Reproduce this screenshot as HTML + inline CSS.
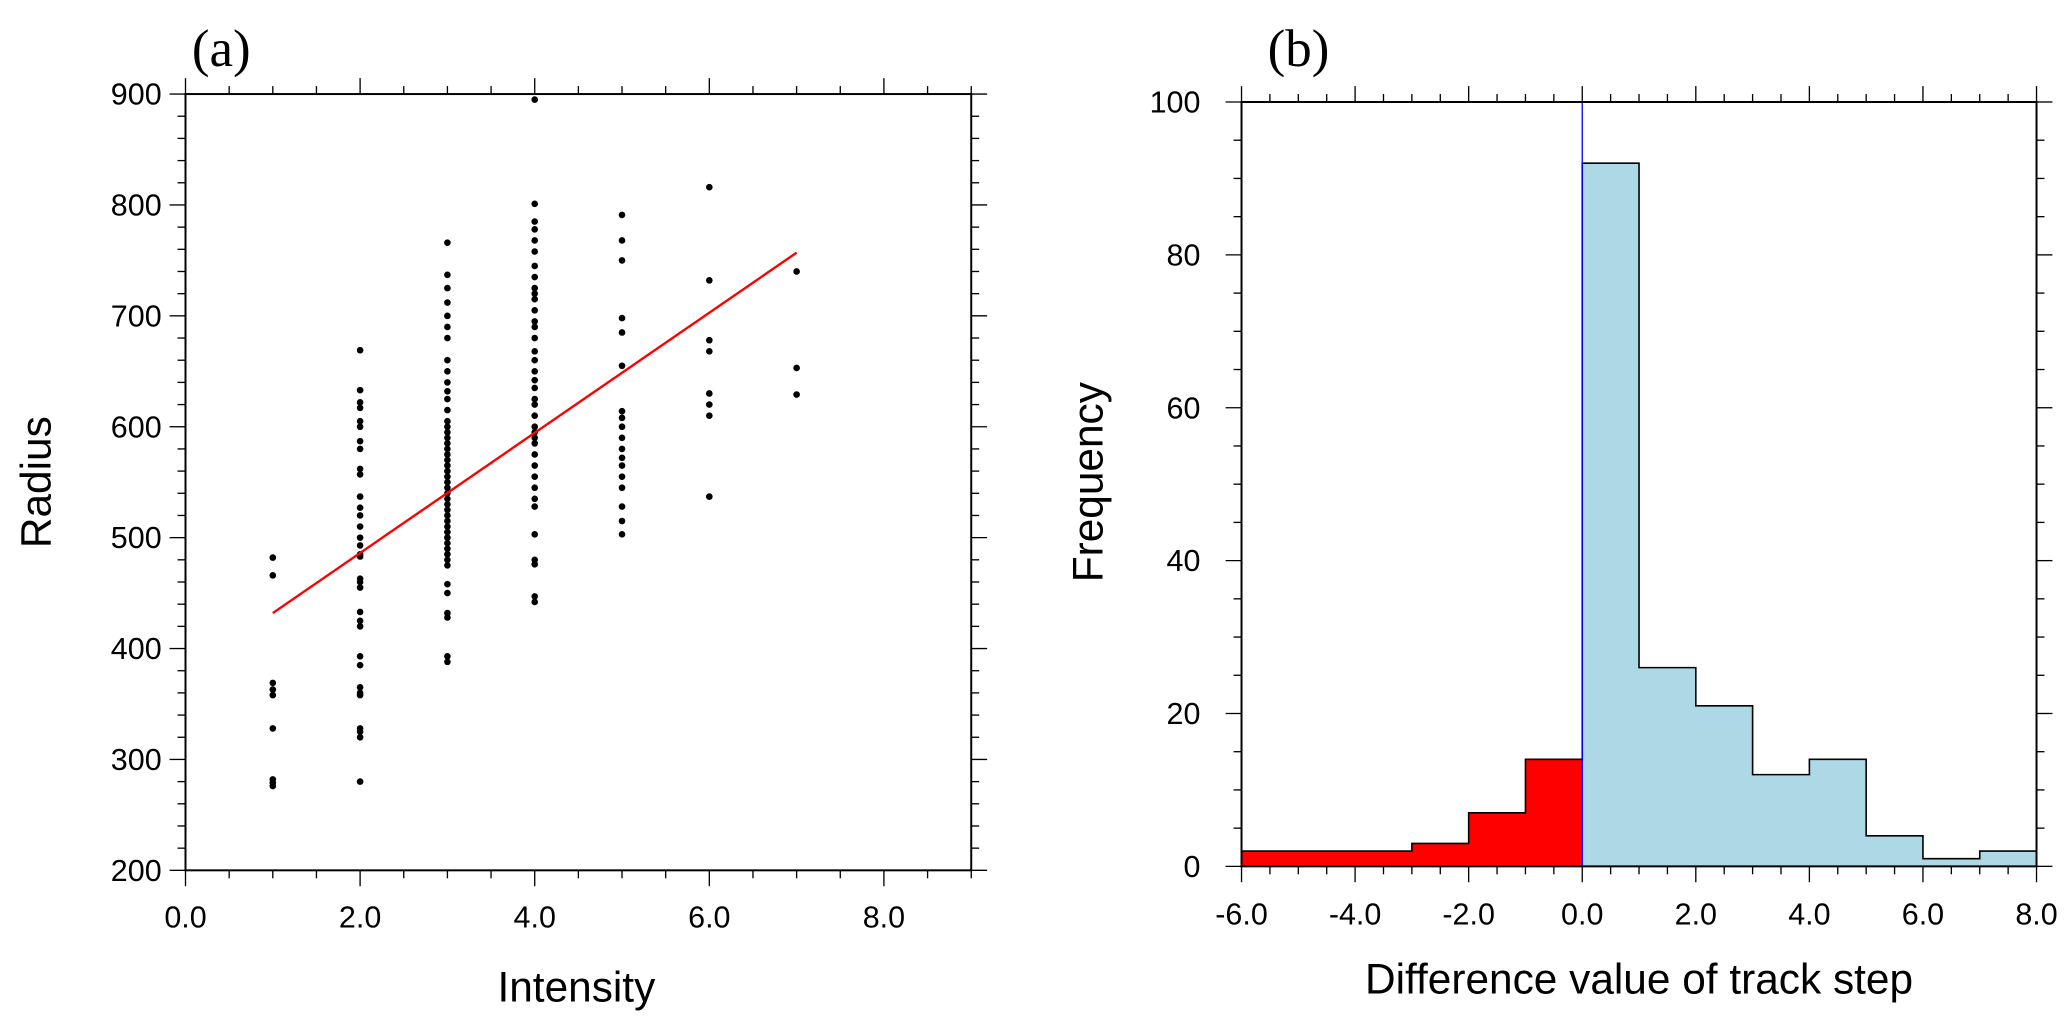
<!DOCTYPE html>
<html><head><meta charset="utf-8"><style>
html,body{margin:0;padding:0;background:#fff;}
svg{display:block;font-family:"Liberation Sans",sans-serif;}
</style></head><body>
<svg id="chart" width="2067" height="1024" viewBox="0 0 1560 773" preserveAspectRatio="none" xmlns="http://www.w3.org/2000/svg">
<g id="pa"></g>
<g id="pb"></g>
</svg>
<script>
// Panel (a) data
const intensityCats = [1,2,3,4,5,6,7];
const radiusByIntensity = [
 [482,466,369,363,358,328,282,279,276],
 [669,633,622,617,605,600,587,580,562,557,537,527,520,510,500,493,485,483,463,460,455,433,425,420,393,385,365,360,358,328,325,320,280],
 [766,737,725,712,700,690,680,660,650,640,632,625,615,605,600,595,590,585,580,575,570,565,560,555,550,545,540,535,530,525,520,515,510,505,500,495,490,485,480,475,458,450,432,428,393,388],
 [895,801,785,778,768,758,745,735,725,720,715,705,695,690,680,668,660,650,642,635,625,620,610,600,595,590,585,575,565,555,545,535,528,503,480,476,447,442],
 [791,768,750,698,685,655,614,608,600,590,580,572,565,555,545,528,515,503],
 [816,732,678,668,630,620,610,537],
 [740,653,629]
];
const fitX = [1,7];
const fitY = [432,757];
const aXTicks = [0,2,4,6,8];
const aXTickLabels = ["0.0","2.0","4.0","6.0","8.0"];
const aYTicks = [200,300,400,500,600,700,800,900];
// Panel (b) data
const binEdgesLeft = [-6,-5,-4,-3,-2,-1,0,1,2,3,4,5,6,7];
const binCounts = [2,2,2,3,7,14,92,26,21,12,14,4,1,2];
const bXTicks = [-6,-4,-2,0,2,4,6,8];
const bXTickLabels = ["-6.0","-4.0","-2.0","0.0","2.0","4.0","6.0","8.0"];
const bYTicks = [0,20,40,60,80,100];

const NS="http://www.w3.org/2000/svg";
function mk(parent,tag,attrs){const e=document.createElementNS(NS,tag);for(const k in attrs)e.setAttribute(k,attrs[k]);parent.appendChild(e);return e;}

// ---------- Panel A ----------
const pa=document.getElementById('pa');
const aL=140,aR=733,aT=71,aB=657;
const ax=v=>aL+(v-0)*(aR-aL)/9;
const ay=v=>aB-(v-200)*(aB-aT)/700;
const fr=mk(pa,'rect',{x:aL,y:aT,width:aR-aL,height:aB-aT,fill:'none',stroke:'#000','stroke-width':1.5});


for(let v=0;v<=9.001;v+=0.5){
 const maj=Math.abs(v/2-Math.round(v/2))<1e-6, L=maj?12:6;
 mk(pa,'line',{x1:ax(v),x2:ax(v),y1:aB,y2:aB+L,stroke:'#000','stroke-width':1});
 mk(pa,'line',{x1:ax(v),x2:ax(v),y1:aT,y2:aT-L,stroke:'#000','stroke-width':1});
}
for(let v=200;v<=900;v+=20){
 const maj=v%100===0, L=maj?12:6;
 mk(pa,'line',{x1:aL,x2:aL-L,y1:ay(v),y2:ay(v),stroke:'#000','stroke-width':1});
 mk(pa,'line',{x1:aR,x2:aR+L,y1:ay(v),y2:ay(v),stroke:'#000','stroke-width':1});
}
aXTicks.forEach((v,i)=>{const t=mk(pa,'text',{x:ax(v),y:700,'font-size':23,'text-anchor':'middle'});t.textContent=aXTickLabels[i];
 });
aYTicks.forEach(v=>{const t=mk(pa,'text',{x:122,y:ay(v)+8,'font-size':23,'text-anchor':'end'});t.textContent=String(v);
 });
radiusByIntensity.forEach((arr,i)=>arr.forEach(r=>{
 const c=mk(pa,'circle',{cx:ax(intensityCats[i]),cy:ay(r),r:2.5,fill:'#000'});
 
}));
const fl=mk(pa,'line',{x1:ax(fitX[0]),y1:ay(fitY[0]),x2:ax(fitX[1]),y2:ay(fitY[1]),stroke:'#f00','stroke-width':1.8});

let t=mk(pa,'text',{x:435,y:756,'font-size':32,'text-anchor':'middle'});t.textContent='Intensity';

t=mk(pa,'text',{x:0,y:0,'font-size':32,'text-anchor':'middle',transform:'translate(38,364) rotate(-90)'});t.textContent='Radius';

t=mk(pa,'text',{x:167,y:50,'font-size':40,'text-anchor':'middle','font-family':'Liberation Serif, serif'});t.textContent='(a)';


// ---------- Panel B ----------
const pb=document.getElementById('pb');
const bL=937,bR=1537,bT=77,bB=654;
const bx=v=>bL+(v+6)*(bR-bL)/14;
const by=v=>bB-v*(bB-bT)/100;
let stepPts=[];
binEdgesLeft.forEach((e,i)=>{
 const r=mk(pb,'rect',{x:bx(e),y:by(binCounts[i]),width:bx(e+1)-bx(e)+0.5,height:bB-by(binCounts[i]),fill:e<0?'#ff0000':'#add8e6'});
 
 stepPts.push(bx(e)+','+by(binCounts[i]));stepPts.push(bx(e+1)+','+by(binCounts[i]));
});
const st=mk(pb,'polyline',{points:stepPts.join(' '),fill:'none',stroke:'#000','stroke-width':1.2});

const zl=mk(pb,'line',{x1:bx(0),x2:bx(0),y1:bT,y2:bB,stroke:'#0000ff','stroke-width':1});

const fb=mk(pb,'rect',{x:bL,y:bT,width:bR-bL,height:bB-bT,fill:'none',stroke:'#000','stroke-width':1.5});

for(let v=-6;v<=8.001;v+=0.5){
 const maj=Math.abs(v/2-Math.round(v/2))<1e-6, L=maj?12:6;
 mk(pb,'line',{x1:bx(v),x2:bx(v),y1:bB,y2:bB+L,stroke:'#000','stroke-width':1});
 mk(pb,'line',{x1:bx(v),x2:bx(v),y1:bT,y2:bT-L,stroke:'#000','stroke-width':1});
}
for(let v=0;v<=100;v+=5){
 const maj=v%20===0, L=maj?12:6;
 mk(pb,'line',{x1:bL,x2:bL-L,y1:by(v),y2:by(v),stroke:'#000','stroke-width':1});
 mk(pb,'line',{x1:bR,x2:bR+L,y1:by(v),y2:by(v),stroke:'#000','stroke-width':1});
}
bXTicks.forEach((v,i)=>{const t=mk(pb,'text',{x:bx(v),y:698,'font-size':23,'text-anchor':'middle'});t.textContent=bXTickLabels[i];
 });
bYTicks.forEach(v=>{const t=mk(pb,'text',{x:906,y:by(v)+8,'font-size':23,'text-anchor':'end'});t.textContent=String(v);
 });
t=mk(pb,'text',{x:1237,y:750,'font-size':32,'text-anchor':'middle'});t.textContent='Difference value of track step';

t=mk(pb,'text',{x:0,y:0,'font-size':32,'text-anchor':'middle',transform:'translate(832,364) rotate(-90)'});t.textContent='Frequency';

t=mk(pb,'text',{x:980,y:50,'font-size':40,'text-anchor':'middle','font-family':'Liberation Serif, serif'});t.textContent='(b)';

</script>
</body></html>
